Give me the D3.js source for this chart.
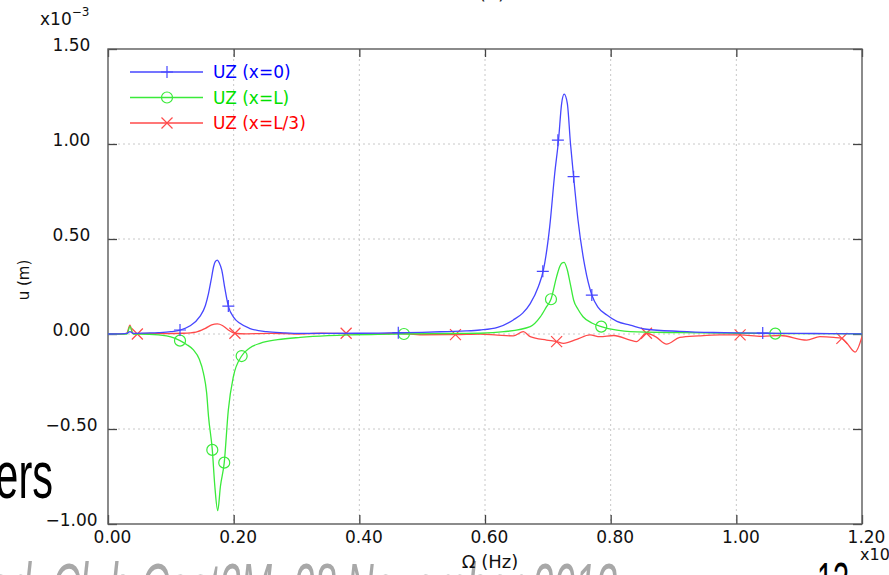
<!DOCTYPE html>
<html>
<head>
<meta charset="utf-8">
<script src="https://cdn.jsdelivr.net/npm/d3@7"></script>
<style>
  html, body { margin: 0; padding: 0; background: #fff; overflow: hidden; }
  svg { display: block; }
</style>
</head>
<body>
<svg id="chart" width="889" height="575"></svg>
<script>
// Frequency response of vertical displacement UZ at three stations.
// Frequencies in axis units (x10 Hz), displacements in 1e-3 m.

const freqBlue = [0, 0.02, 0.03, 0.035, 0.04, 0.06, 0.08, 0.10, 0.115, 0.13, 0.146, 0.155, 0.160, 0.165,
  0.168, 0.171, 0.174, 0.177, 0.181, 0.186, 0.1915, 0.20, 0.21, 0.225, 0.2525, 0.28, 0.306, 0.35,
  0.40, 0.45, 0.50, 0.54, 0.57, 0.592, 0.62, 0.645, 0.66, 0.672, 0.685, 0.693, 0.703, 0.711, 0.717,
  0.722, 0.726, 0.731, 0.736, 0.741, 0.748, 0.759, 0.770, 0.780, 0.794, 0.81, 0.831, 0.857, 0.91,
  0.963, 1.0, 1.05, 1.1, 1.15, 1.2];
const uzBlue = [0, 0.001, 0.003, 0.012, 0.003, 0.005, 0.007, 0.012, 0.021, 0.042, 0.091, 0.15, 0.214, 0.30,
  0.354, 0.382, 0.389, 0.375, 0.337, 0.24, 0.147, 0.088, 0.056, 0.03, 0.012, 0.006, 0.003, 0.003,
  0.004, 0.006, 0.009, 0.013, 0.016, 0.021, 0.035, 0.074, 0.11, 0.16, 0.25, 0.337, 0.565, 0.846, 1.02,
  1.214, 1.262, 1.214, 1.004, 0.828, 0.60, 0.354, 0.205, 0.14, 0.10, 0.066, 0.047, 0.025, 0.014,
  0.008, 0.006, 0.004, 0.003, 0.002, 0.001];

const freqGreen = [0, 0.03, 0.035, 0.04, 0.051, 0.08, 0.10, 0.1146, 0.125, 0.136, 0.145, 0.152, 0.157,
  0.160, 0.166, 0.170, 0.1746, 0.179, 0.185, 0.1915, 0.1995, 0.2127, 0.225, 0.242, 0.27, 0.306, 0.35,
  0.385, 0.43, 0.465, 0.52, 0.56, 0.592, 0.63, 0.672, 0.688, 0.698, 0.705, 0.714, 0.719, 0.722,
  0.726, 0.731, 0.736, 0.741, 0.748, 0.756, 0.77, 0.785, 0.81, 0.831, 0.91, 1.0, 1.1, 1.2];
const uzGreen = [0, -0.001, 0.04, 0, 0, -0.005, -0.015, -0.035, -0.055, -0.084, -0.13, -0.207, -0.31,
  -0.435, -0.61, -0.80, -0.93, -0.80, -0.677, -0.40, -0.225, -0.116, -0.075, -0.049, -0.03, -0.018, -0.009,
  -0.005, -0.002, 0, 0.002, 0.003, 0.004, 0.012, 0.039, 0.09, 0.144, 0.183, 0.302, 0.355, 0.372,
  0.377, 0.337, 0.26, 0.179, 0.13, 0.091, 0.058, 0.039, 0.02, 0.012, 0.007, 0.004, 0.002, 0.001];

const freqRed = [0, 0.025, 0.03, 0.035, 0.039, 0.0467, 0.06, 0.09, 0.12, 0.14, 0.155, 0.165, 0.174, 0.182,
  0.19, 0.202, 0.22, 0.26, 0.30, 0.34, 0.379, 0.42, 0.46, 0.50, 0.553, 0.592, 0.62, 0.645, 0.661,
  0.672, 0.698, 0.714, 0.725, 0.746, 0.767, 0.783, 0.805, 0.831, 0.841, 0.857, 0.872, 0.889, 0.91,
  0.94, 0.974, 1.006, 1.04, 1.07, 1.112, 1.133, 1.155, 1.168, 1.176, 1.189, 1.2];
const uzRed = [0, 0, 0.005, 0.047, 0.005, 0, 0.003, 0.002, 0.004, 0.01, 0.03, 0.048, 0.053, 0.045,
  0.025, 0.004, 0.001, 0.003, 0, 0.004, 0.002, 0, 0.004, -0.004, -0.003, 0, -0.006, -0.01, 0.012,
  -0.014, -0.032, -0.04, -0.049, -0.028, -0.005, -0.014, -0.008, -0.032, -0.04, 0.004, -0.015, -0.053, -0.018,
  -0.01, -0.005, -0.005, -0.012, -0.008, -0.032, -0.014, -0.018, -0.023, -0.049, -0.095, -0.014];

// Marker positions along each curve
const markBlueF = [0.1146, 0.1915, 0.462, 0.692, 0.716, 0.741, 0.770, 1.042];
const markBlueU = [0.021, 0.147, 0.007, 0.33, 1.02, 0.828, 0.205, 0.005];
const markGreenF = [0.1146, 0.166, 0.185, 0.2127, 0.471, 0.705, 0.785, 1.062];
const markGreenU = [-0.035, -0.61, -0.677, -0.116, 0.0, 0.183, 0.039, 0.002];
const markRedF = [0.0467, 0.202, 0.379, 0.553, 0.714, 0.857, 1.006, 1.168];
const markRedU = [0.0, 0.004, 0.004, -0.003, -0.04, 0.004, -0.005, -0.023];

const seriesLabels = ["UZ (x=0)", "UZ (x=L)", "UZ (x=L/3)"];
const xTicks = [0, 0.2, 0.4, 0.6, 0.8, 1.0, 1.2];
const yTicks = [-1.0, -0.5, 0, 0.5, 1.0, 1.5];

const svg = d3.select("#chart");
const chartFont = "DejaVu Sans, sans-serif";
const slideFont = "Liberation Sans, Arial, sans-serif";

const plot = { left: 108, right: 862, top: 49, bottom: 524 };
const x = d3.scaleLinear().domain([0, 1.2]).range([plot.left, plot.right]);
const y = d3.scaleLinear().domain([-1.0, 1.5]).range([plot.bottom, plot.top]);

// Slide text behind the chart (condensed slide typeface)
svg.append("text")
  .attr("transform", "translate(53,498) scale(0.62,1)")
  .attr("text-anchor", "end")
  .attr("font-family", slideFont).attr("font-size", 67).attr("fill", "#000")
  .text("ers");
svg.append("text")
  .attr("transform", "translate(617,611) scale(0.56,1)")
  .attr("text-anchor", "end")
  .attr("font-family", slideFont).attr("font-size", 68).attr("font-style", "italic")
  .attr("fill", "#a8a8a8")
  .text("ed, Club Cast3M, 28 November 2013");
svg.append("text")
  .attr("transform", "translate(817,598) scale(0.58,1)")
  .attr("font-family", slideFont).attr("font-size", 50).attr("fill", "#000")
  .text("13");

// Title (mostly above the frame)
svg.append("text")
  .attr("x", 492).attr("y", -1).attr("text-anchor", "middle")
  .attr("font-family", chartFont).attr("font-size", 19).attr("fill", "#222")
  .text("(b)");

// Dotted grid
const grid = svg.append("g").attr("stroke", "#c8c8c8").attr("stroke-width", 1)
  .attr("stroke-dasharray", "2,3");
grid.selectAll("line.gx").data(xTicks.slice(1, -1)).join("line")
  .attr("x1", d => x(d)).attr("x2", d => x(d))
  .attr("y1", plot.top).attr("y2", plot.bottom);
grid.selectAll("line.gy").data(yTicks.slice(1, -1)).join("line")
  .attr("x1", plot.left).attr("x2", plot.right)
  .attr("y1", d => y(d)).attr("y2", d => y(d));

// Axes with inward ticks
const fmt = d3.format(".2f");
function styleAxis(g) {
  g.select(".domain").remove();
  g.selectAll(".tick line").attr("stroke", "#444").attr("stroke-width", 1.3);
  g.selectAll(".tick text").attr("font-family", chartFont).attr("font-size", 17).attr("fill", "#111");
}
svg.append("g").attr("transform", `translate(${plot.left},0)`)
  .call(d3.axisLeft(y).tickValues(yTicks).tickSize(-9).tickFormat(fmt))
  .call(styleAxis)
  .call(g => g.selectAll(".tick text").attr("x", -36.5).attr("text-anchor", "middle").attr("dy", "0.06em"));
svg.append("g").attr("transform", `translate(${plot.right},0)`)
  .call(d3.axisRight(y).tickValues(yTicks).tickSize(-9).tickFormat(""))
  .call(styleAxis);
svg.append("g").attr("transform", `translate(0,${plot.top})`)
  .call(d3.axisTop(x).tickValues(xTicks).tickSize(-8).tickFormat(""))
  .call(styleAxis);
svg.append("g").attr("transform", `translate(0,${plot.bottom})`)
  .call(d3.axisBottom(x).tickValues(xTicks).tickSize(-9).tickFormat(fmt))
  .call(styleAxis)
  .call(g => g.selectAll(".tick text").attr("x", 4).attr("y", 7).attr("dy", "0.71em"));

// Frame
svg.append("rect")
  .attr("x", plot.left).attr("y", plot.top)
  .attr("width", plot.right - plot.left).attr("height", plot.bottom - plot.top)
  .attr("fill", "none").attr("stroke", "#5a5a5a").attr("stroke-width", 1.4);

// Curves
svg.append("clipPath").attr("id", "plotClip").append("rect")
  .attr("x", plot.left).attr("y", plot.top)
  .attr("width", plot.right - plot.left).attr("height", plot.bottom - plot.top);

const series = [
  { f: freqBlue, u: uzBlue, mf: markBlueF, mu: markBlueU, line: "#4646ff", text: "#0000ff", marker: "plus" },
  { f: freqGreen, u: uzGreen, mf: markGreenF, mu: markGreenU, line: "#3aea3a", text: "#00e000", marker: "circle" },
  { f: freqRed, u: uzRed, mf: markRedF, mu: markRedU, line: "#ff4a4a", text: "#ff0000", marker: "cross" }
];

const lineGen = d3.line().x(d => x(d[0])).y(d => y(d[1])).curve(d3.curveMonotoneX);
const curves = svg.append("g").attr("clip-path", "url(#plotClip)");

function drawMarker(g, type, color) {
  if (type === "circle") {
    g.append("circle").attr("r", 5.5).attr("fill", "none").attr("stroke", color).attr("stroke-width", 1.2);
  } else {
    const d = type === "plus" ? "M-6,0H6M0,-6V6" : "M-5.5,-5.5L5.5,5.5M-5.5,5.5L5.5,-5.5";
    g.append("path").attr("d", d).attr("fill", "none").attr("stroke", color).attr("stroke-width", 1.2);
  }
}

// Draw red first, then green, then blue on top
[2, 1, 0].forEach(i => {
  const s = series[i];
  const pts = s.f.map((f, k) => [f, s.u[k]]);
  curves.append("path").datum(pts)
    .attr("d", lineGen)
    .attr("fill", "none").attr("stroke", s.line).attr("stroke-width", 1.3)
    .attr("stroke-linejoin", "round");
  s.mf.forEach((f, k) => {
    const g = curves.append("g").attr("transform", `translate(${x(f)},${y(s.mu[k])})`);
    drawMarker(g, s.marker, s.line);
  });
});

// Legend
const legend = svg.append("g");
series.forEach((s, i) => {
  const ly = 72 + i * 25.5;
  legend.append("line").attr("x1", 130).attr("x2", 203).attr("y1", ly).attr("y2", ly)
    .attr("stroke", s.line).attr("stroke-width", 1.3);
  drawMarker(legend.append("g").attr("transform", `translate(167,${ly})`), s.marker, s.line);
  legend.append("text").attr("x", 213).attr("y", ly + 6)
    .attr("font-family", chartFont).attr("font-size", 17).attr("fill", s.text)
    .text(seriesLabels[i]);
});

// Axis titles and multipliers
svg.append("text")
  .attr("transform", "translate(29,280) rotate(-90)")
  .attr("text-anchor", "middle")
  .attr("font-family", chartFont).attr("font-size", 15).attr("fill", "#111")
  .text("u (m)");
const ymult = svg.append("text").attr("x", 40).attr("y", 25)
  .attr("font-family", chartFont).attr("font-size", 17).attr("fill", "#111");
ymult.append("tspan").text("x10");
ymult.append("tspan").attr("font-size", 12).attr("dy", -9).text("\u22123");

svg.append("text")
  .attr("x", 490).attr("y", 568).attr("text-anchor", "middle")
  .attr("font-family", chartFont).attr("font-size", 18).attr("fill", "#111")
  .text("\u03A9 (Hz)");
svg.append("text")
  .attr("x", 860).attr("y", 560)
  .attr("font-family", chartFont).attr("font-size", 16).attr("fill", "#111")
  .text("x10");
</script>
</body>
</html>
